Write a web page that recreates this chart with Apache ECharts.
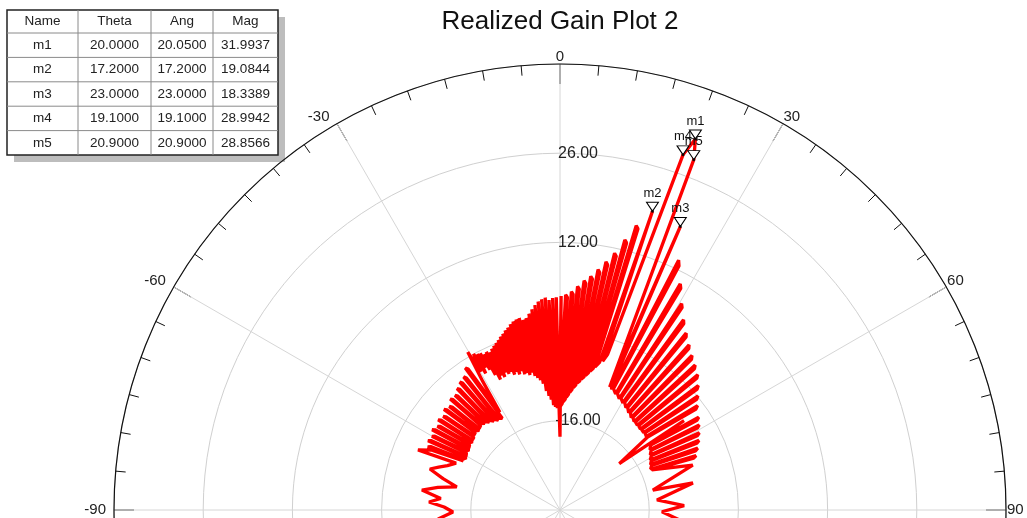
<!DOCTYPE html>
<html><head><meta charset="utf-8">
<script src="https://cdn.jsdelivr.net/npm/echarts@6/dist/echarts.min.js"></script>
<style>html,body{margin:0;padding:0;background:#fff}#chart{width:1027px;height:518px}</style>
</head><body><div id="chart"></div>
<script>
const chartTitle = 'Realized Gain Plot 2';
const radialMin = -30, radialMax = 40, radialStep = 14;
const angleStep = 30;

// [theta (deg), realized gain (dB)], in drawing order
const curve = [
[-97.0,-9.0],[-94.0,-11.0],[-91.1,-13.2],[-88.5,-11.8],[-86.5,-9.4],[-84.5,-11.2],[-81.8,-8.1],[-79.5,-10.5],
[-77.4,-13.4],[-75.0,-11.0],[-72.5,-8.6],[-70.5,-9.8],[-68.5,-11.0],[-65.7,-12.1],[-67.1,-5.8],[-65.0,-7.8],
[-63.0,-13.0],[-64.5,-7.0],[-63.9,-7.4],[-62.4,-12.8],
[-60.8,-13.2],[-62.3,-6.6],[-61.7,-7.0],[-60.2,-13.0],
[-58.6,-12.8],[-60.1,-6.8],[-59.5,-7.2],[-58.0,-12.6],
[-56.4,-12.9],[-57.9,-6.3],[-57.3,-6.7],[-55.8,-12.7],
[-54.2,-12.5],[-55.7,-6.7],[-55.1,-7.1],[-53.6,-12.3],
[-52.0,-12.6],[-53.5,-6.2],[-52.9,-6.6],[-51.4,-12.4],
[-49.8,-12.3],[-51.3,-6.5],[-50.7,-6.9],[-49.2,-12.1],
[-47.6,-12.0],[-49.1,-5.9],[-48.5,-6.3],[-47.0,-11.8],
[-45.4,-12.2],[-46.9,-6.2],[-46.3,-6.6],[-44.8,-12.0],
[-43.2,-11.8],[-44.7,-5.5],[-44.1,-5.9],[-42.6,-11.6],
[-41.0,-12.0],[-42.5,-5.6],[-41.9,-6.0],[-40.4,-11.8],
[-38.8,-12.3],[-40.3,-5.0],[-39.7,-5.4],[-38.2,-12.1],
[-36.6,-12.6],[-38.1,-4.5],[-37.5,-4.9],[-36.0,-12.4],
[-34.4,-12.9],[-35.9,-4.2],[-35.3,-4.6],[-33.8,-12.7],
[-32.2,-13.0],[-33.7,-3.2],[-33.1,-3.6],[-31.6,-12.0],
[-31.0,-6.5],[-30.3,-1.3],[-29.8,-5.0],[-29.0,-2.0],[-28.5,-5.6],[-28.0,-2.3],[-27.5,-4.8],[-27.0,-2.4],
[-26.5,-5.4],[-26.0,-2.8],[-25.5,-6.5],[-25.0,-2.6],[-24.5,-7.5],[-24.0,-2.9],[-23.5,-7.0],[-23.0,-2.5],
[-22.5,-7.4],[-22.0,-2.2],[-21.5,-6.8],[-21.0,-1.9],[-20.5,-7.2],[-20.0,-1.6],[-19.5,-7.0],[-19.0,-1.2],
[-18.5,-7.6],[-18.0,-0.9],[-17.5,-7.3],[-17.0,-0.5],[-16.5,-7.8],[-16.0,-0.2],[-15.5,-7.4],[-15.0,0.2],
[-14.5,-8.0],[-14.0,0.5],[-13.5,-7.9],[-13.0,0.7],[-12.5,-8.3],[-12.0,0.8],[-11.5,-8.0],[-11.0,0.4],
[-10.5,-8.6],[-10.0,0.6],[-9.5,-9.0],[-9.0,1.2],[-8.5,-9.4],[-8.0,1.8],[-7.5,-10.0],[-7.0,2.4],
[-6.5,-11.2],[-6.0,2.9],[-5.5,-12.0],[-5.0,3.2],[-4.5,-12.6],[-4.0,3.4],[-3.5,-13.5],[-3.0,3.0],
[-2.5,-13.8],[-2.0,3.3],[-1.5,-14.0],[-1.0,3.4],[-0.5,-14.3],[0.0,-18.5],[0.3,3.6],
[-0.3,-14.0],[1.5,3.8],[2.0,3.4],[0.2,-13.7],
[1.2,-13.3],[3.0,4.3],[3.5,3.9],[1.7,-13.0],
[2.7,-12.6],[4.5,5.2],[5.0,4.8],[3.2,-12.3],
[4.2,-11.8],[6.0,6.2],[6.5,5.8],[4.7,-11.5],
[5.7,-11.0],[7.5,7.0],[8.0,6.6],[6.2,-10.7],
[7.2,-10.2],[9.0,8.2],[9.5,7.8],[7.7,-9.9],
[8.7,-9.5],[10.5,9.6],[11.0,9.2],[9.2,-9.2],
[10.2,-8.8],[12.0,11.2],[12.5,10.8],[10.7,-8.5],
[11.7,-8.0],[13.5,13.6],[14.0,13.2],[12.2,-7.7],
[13.2,-7.2],[15.0,16.2],[15.5,15.8],[13.7,-6.9],
[15.0,-6.0],[17.2,19.08],[16.0,-5.7],
[17.0,-4.5],[19.1,28.99],[20.05,31.99],[20.9,28.86],[22.0,-9.2],[23.0,18.34],[22.6,-9.0],
[23.2,-9.4],[25.4,13.4],[26.0,12.6],[23.8,-9.2],
[25.6,-9.8],[28.0,10.2],[28.6,9.6],[26.2,-9.6],
[28.0,-10.2],[30.5,7.6],[31.1,7.1],[28.6,-10.0],
[30.4,-10.5],[33.0,5.6],[33.6,5.1],[31.0,-10.3],
[32.8,-10.9],[35.5,4.1],[36.1,3.6],[33.4,-10.7],
[35.2,-11.3],[38.0,2.9],[38.6,2.4],[35.8,-11.1],
[37.6,-11.7],[40.5,1.9],[41.1,1.4],[38.2,-11.5],
[40.0,-11.9],[43.0,1.1],[43.6,0.6],[40.6,-11.8],
[42.4,-12.0],[45.5,0.3],[46.1,-0.2],[43.0,-11.9],
[44.8,-12.1],[48.0,-0.8],[48.6,-1.3],[45.4,-12.0],
[47.2,-12.1],[50.4,-1.9],[51.0,-2.4],[47.8,-12.0],
[49.6,-12.2],[52.8,-2.9],[53.4,-3.4],[50.2,-12.1],
[52.0,-18.2],[54.2,-6.0],
[53.8,-12.6],[56.2,-3.8],[56.8,-4.3],[54.4,-12.5],
[56.2,-13.0],[58.6,-4.4],[59.2,-4.9],[56.8,-12.9],
[58.6,-13.4],[61.0,-5.0],[61.6,-5.5],[59.2,-13.3],
[61.0,-13.8],[63.4,-5.6],[64.0,-6.1],[61.6,-13.7],
[63.4,-14.1],[65.8,-6.3],[66.4,-6.8],[64.0,-14.0],
[65.8,-14.4],[68.2,-7.0],[68.8,-7.5],[66.4,-14.3],
[71.3,-8.0],[77.9,-15.1],[78.5,-8.7],[84.1,-14.7],[88.0,-10.5],[91.0,-14.0],[96.0,-10.0]
];

const markerNames = ['m1','m2','m3','m4','m5'];
const markerTheta = [20.0, 17.2, 23.0, 19.1, 20.9];
const markerAng = [20.05, 17.2, 23.0, 19.1, 20.9];
const markerMag = [31.9937, 19.0844, 18.3389, 28.9942, 28.8566];
const tableHeaders = ['Name','Theta','Ang','Mag'];

const FONT = "'Liberation Sans', Arial, sans-serif";
const toAngle = t => (t < 0 ? t + 360 : t);

// ----- marker table -----
const tX = 7, tY = 10, colW = [71, 73, 62, 65], headH = 23, rowH = 24.4;
const tW = colW.reduce((a, b) => a + b, 0), tH = headH + rowH * markerNames.length;
const tableEls = [];
tableEls.push({type:'rect', shape:{x:tX+7, y:tY+7, width:tW, height:tH}, style:{fill:'#bdbdbd'}});
tableEls.push({type:'rect', shape:{x:tX, y:tY, width:tW, height:tH}, style:{fill:'#fff', stroke:'#222', lineWidth:1.5}});
let cx = tX;
for (let c = 0; c < colW.length - 1; c++) {
  cx += colW[c];
  tableEls.push({type:'line', shape:{x1:cx, y1:tY, x2:cx, y2:tY+tH}, style:{stroke:'#8a8a8a', lineWidth:1}});
}
for (let r = 0; r < markerNames.length; r++) {
  const y = tY + headH + r * rowH;
  tableEls.push({type:'line', shape:{x1:tX, y1:y, x2:tX+tW, y2:y}, style:{stroke:'#8a8a8a', lineWidth:1}});
}
function cellText(txt, col, rowIdx) {
  let x = tX; for (let c = 0; c < col; c++) x += colW[c];
  x += colW[col] / 2;
  const y = rowIdx < 0 ? tY + headH / 2 : tY + headH + rowIdx * rowH + rowH / 2;
  return {type:'text', x:x, y:y, style:{text:txt, fill:'#222', font:'13.5px ' + FONT,
    align:'center', verticalAlign:'middle', textAlign:'center', textVerticalAlign:'middle'}};
}
tableHeaders.forEach((h, i) => tableEls.push(cellText(h, i, -1)));
markerNames.forEach((n, r) => {
  tableEls.push(cellText(n, 0, r));
  tableEls.push(cellText(markerTheta[r].toFixed(4), 1, r));
  tableEls.push(cellText(markerAng[r].toFixed(4), 2, r));
  tableEls.push(cellText(markerMag[r].toFixed(4), 3, r));
});

const chart = echarts.init(document.getElementById('chart'), null, {renderer:'canvas'});
chart.setOption({
  animation: false,
  backgroundColor: '#fff',
  textStyle: {fontFamily: FONT},
  polar: {center: [560, 510], radius: 446},
  angleAxis: {
    type: 'value', min: 0, max: 360, interval: angleStep, startAngle: 90, clockwise: true,
    axisLine: {show: true, lineStyle: {color: '#111', width: 1.2}},
    axisTick: {show: true, inside: true, length: 20, lineStyle: {color: '#111', width: 1}},
    minorTick: {show: true, splitNumber: 6, length: 10, lineStyle: {color: '#111', width: 1}},
    axisLabel: {show: true, margin: 1, color: '#222', fontSize: 15, fontFamily: FONT,
      formatter: v => { const t = v > 180 ? v - 360 : v; return t < 0 ? '{neg|' + t + '}' : '{pos|' + t + '}'; },
      rich: {
        neg: {fontSize: 15, fontFamily: FONT, color: '#222', lineHeight: 12, padding: [0, 7, 0, 0]},
        pos: {fontSize: 15, fontFamily: FONT, color: '#222', lineHeight: 12}
      }},
    splitLine: {show: true, lineStyle: {color: '#d6d6d6', width: 1}}
  },
  radiusAxis: {
    type: 'value', min: radialMin, max: radialMax, interval: radialStep,
    axisLine: {show: false}, axisTick: {show: false},
    axisLabel: {show: true, showMinLabel: false, showMaxLabel: false, margin: -18,
      align: 'center', verticalAlign: 'middle', color: '#222', fontSize: 16, fontFamily: FONT,
      formatter: v => v.toFixed(2)},
    splitLine: {show: true, lineStyle: {color: '#d0d0d0', width: 1}}
  },
  series: [
    {type: 'line', coordinateSystem: 'polar', showSymbol: false, symbol: 'none', z: 3,
      lineStyle: {color: '#ff0000', width: 3.3}, data: curve.map(([t, g]) => [g, toAngle(t)])},
    {type: 'scatter', coordinateSystem: 'polar', z: 5, symbol: 'triangle', symbolRotate: 180,
      symbolSize: [12, 9], symbolOffset: [0, -4.5],
      itemStyle: {color: '#fff', borderColor: '#000', borderWidth: 1, opacity: 1},
      label: {show: true, position: 'top', distance: 2, formatter: '{b}', color: '#111', fontSize: 13, fontFamily: FONT},
      data: markerNames.map((n, i) => ({name: n, value: [markerMag[i], toAngle(markerAng[i])]}))},
    {type: 'scatter', coordinateSystem: 'polar', z: 6, symbol: 'circle', symbolSize: 3,
      itemStyle: {color: '#000'}, silent: true,
      data: markerNames.map((n, i) => [markerMag[i], toAngle(markerAng[i])])}
  ],
  graphic: [
    {type: 'text', x: 560, y: 22, z: 10, style: {text: chartTitle, fill: '#111', font: '26px ' + FONT,
      align: 'center', verticalAlign: 'middle', textAlign: 'center', textVerticalAlign: 'middle'}},
    {type: 'group', z: 10, children: tableEls}
  ]
});
</script></body></html>
